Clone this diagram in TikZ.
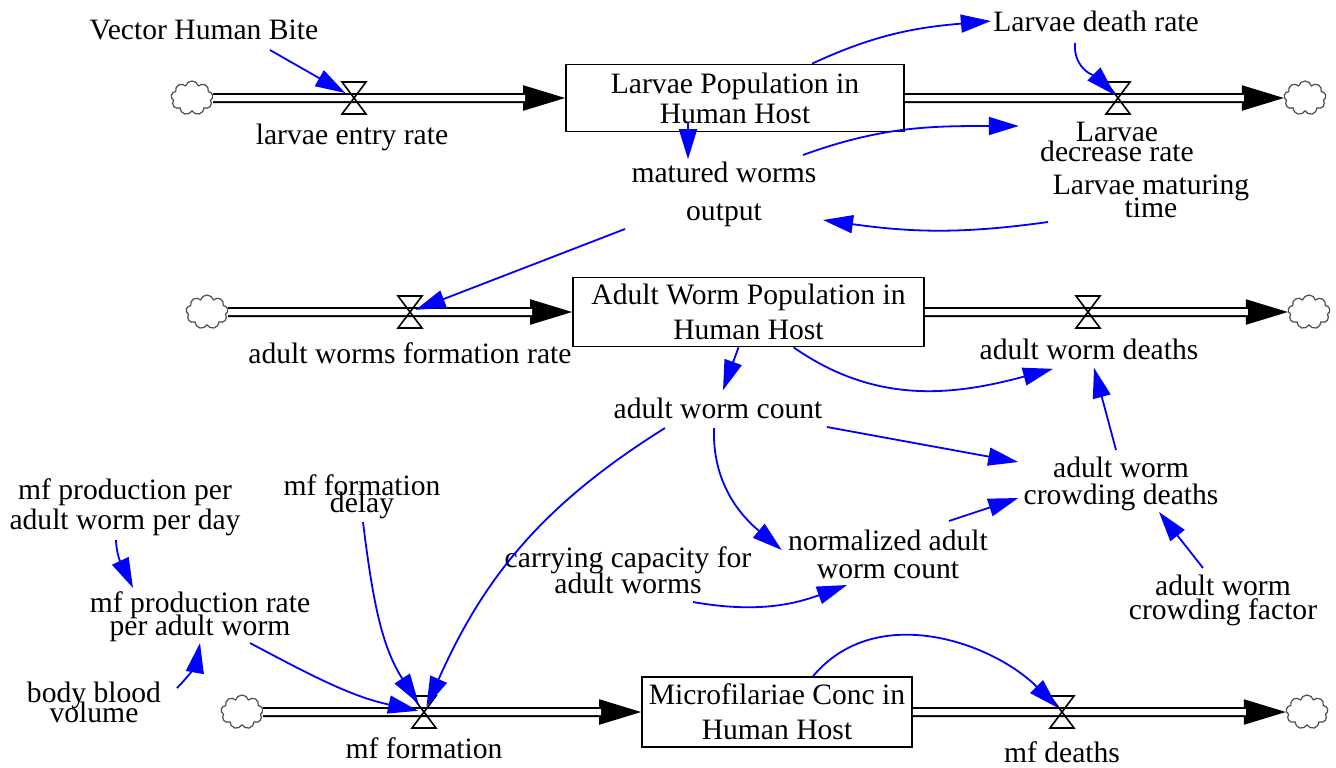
\documentclass[tikz,border=0pt]{standalone}
\usepackage{fontspec}
\setmainfont{Liberation Serif}
\usetikzlibrary{arrows.meta,shapes.symbols,calc}

\begin{document}
\begin{tikzpicture}[x=0.5pt,y=0.5pt,
  stock/.style={draw, line width=0.8pt, align=center, inner sep=0pt, font={\fontsize{14.8}{#1}\selectfont}},
  stock/.default=17.5,
  lbl/.style={align=center, inner sep=1pt, font={\fontsize{14.8}{#1}\selectfont\lineskiplimit=-20pt\relax}},
  lbl/.default=17,
  sink/.style={cloud, cloud puffs=9, aspect=1.3, draw=black!70, line width=0.6pt, minimum width=21pt, minimum height=17pt, inner sep=0pt},
  pipe/.style={double, double distance=3pt, line width=1pt, shorten >=20pt},
  pipetip/.style={line width=1pt, -{Triangle[length=21pt,width=12.5pt]}},
  valve/.style={line width=0.8pt},
  link/.style={blue, line width=0.9pt, -{Triangle[length=15pt,width=9pt]}}]
\useasboundingbox (0,0) rectangle (1336,-767);

% stocks
\node[stock=15, minimum width=169pt, minimum height=33.5pt] (b1) at (735,-98) {Larvae Population in\\Human Host};
\node[stock, minimum width=175.5pt, minimum height=34.5pt] (b2) at (748.5,-312) {Adult Worm Population in\\Human Host};
\node[stock, minimum width=135pt, minimum height=35pt] (b3) at (777,-712) {Microfilariae Conc in\\Human Host};

% sources and sinks
\node[sink] (c1) at (192,-98) {};
\node[sink] (c2) at (1305,-98) {};
\node[sink] (c3) at (207,-312) {};
\node[sink] (c4) at (1309,-312) {};
\node[sink] (c5) at (242,-712) {};
\node[sink] (c6) at (1307,-712) {};

% valves
\coordinate (v1) at (354,-98);
\coordinate (v2) at (1118,-98);
\coordinate (v3) at (410,-312);
\coordinate (v4) at (1088,-312);
\coordinate (v5) at (424,-712);
\coordinate (v6) at (1062,-712);

% flows
\foreach \a/\b in {c1.east/b1.west, b1.east/c2.west, c3.east/b2.west, b2.east/c4.west, c5.east/b3.west, b3.east/c6.west} {
  \draw[pipetip] (\a) -- (\b);
  \draw[pipe] (\a) -- (\b);
}
\foreach \v in {v1,v2,v3,v4,v5,v6}
  \draw[valve] ($(\v)+(-12,16)$) -- ($(\v)+(12,16)$) -- ($(\v)+(-12,-16)$) -- ($(\v)+(12,-16)$) -- cycle;

% variables
\node[lbl] (vhb) at (204,-30) {Vector Human Bite};
\node[lbl] (ler) at (352,-137) {larvae entry rate};
\node[lbl] (ldr) at (1096,-21) {Larvae death rate};
\node[lbl=10] (lder) at (1117,-142) {Larvae\\decrease rate};
\node[lbl=11.5] (lmt) at (1151,-196.5) {Larvae maturing\\time};
\node[lbl=19] (mwo) at (724,-194) {matured worms\\output};
\node[lbl] (awfr) at (410,-353) {adult worms formation rate};
\node[lbl] (awd) at (1089,-349) {adult worm deaths};
\node[lbl] (awc) at (718,-408) {adult worm count};
\node[lbl=13.5] (awcd) at (1121,-483.5) {adult worm\\crowding deaths};
\node[lbl=12] (awcf) at (1223,-600) {adult worm\\crowding factor};
\node[lbl=14] (nawc) at (888,-554) {normalized adult\\worm count};
\node[lbl=13] (cc) at (628,-570) {carrying capacity for\\adult worms};
\node[lbl=8.5] (mfd) at (362,-496.5) {mf formation\\delay};
\node[lbl=15] (mfp) at (125,-507) {mf production per\\adult worm per day};
\node[lbl=11.5] (mfr) at (200,-616.5) {mf production rate\\per adult worm};
\node[lbl=10] (bbv) at (94,-702) {body blood\\volume};
\node[lbl] (mff) at (424,-748) {mf formation};
\node[lbl] (mfdt) at (1062,-752) {mf deaths};

% links
\draw[link, shorten >=5pt] ($(vhb)+(66,-20)$) -- (v1);
\draw[link] ($(b1.north)+(77,0)$) to[out=25,in=185] (ldr.west);
\draw[link, shorten >=2pt] ($(ldr)+(-21,-22)$) to[out=-95,in=135] (v2);
\draw[link] ($(b1.south)+(-47,10)$) -- ($(mwo.north)+(-36,0)$);
\draw[link] ($(mwo)+(79,39)$) to[out=20,in=180] ($(lder.west)+(-19,16)$);
\draw[link] ($(lmt)+(-103,-25.5)$) to[out=188,in=-8] ($(mwo)+(99,-26)$);
\draw[link, shorten >=3pt] ($(mwo)+(-99,-35)$) -- (v3);
\draw[link] ($(b2.south)+(-10,0)$) -- ($(awc.north)+(5,5)$);
\draw[link] ($(b2.south)+(45,0)$) to[out=-35,in=195] ($(awd.south)+(-36,-7)$);
\draw[link] ($(awc)+(109,-19)$) -- ($(awcd.west)+(-3,21.5)$);
\draw[link] ($(awc)+(-4,-20)$) to[out=-92,in=140] ($(nawc.west)+(-4,4)$);
\draw[link] ($(nawc)+(61,33)$) -- ($(awcd.west)+(-3,-14.5)$);
\draw[link] ($(cc)+(65,-32)$) to[out=-10,in=200] ($(nawc)+(-41,-31)$);
\draw[link, shorten >=3pt] ($(awc)+(-53,-20)$) to[out=212,in=66] (v5);
\draw[link] ($(awcd)+(-5,33.5)$) -- ($(awd.south)+(5,-6)$);
\draw[link] ($(awcf)+(-20,32)$) -- ($(awcd)+(38,-28.5)$);
\draw[link] ($(mfp)+(-9,-33)$) to[out=-88,in=115] ($(mfr)+(-67,28.5)$);
\draw[link] ($(bbv)+(83,14)$) to[out=45,in=-100] ($(mfr)+(0,-26.5)$);
\draw[link, shorten >=3pt] ($(mfr)+(50,-26.5)$) to[out=-28,in=168] (v5);
\draw[link, shorten >=5pt] ($(mfd)+(1,-25.5)$) to[out=-83,in=123] (v5);
\draw[link, shorten >=3pt] ($(b3.north)+(36,0)$) to[out=50,in=135] (v6);
\end{tikzpicture}
\end{document}
